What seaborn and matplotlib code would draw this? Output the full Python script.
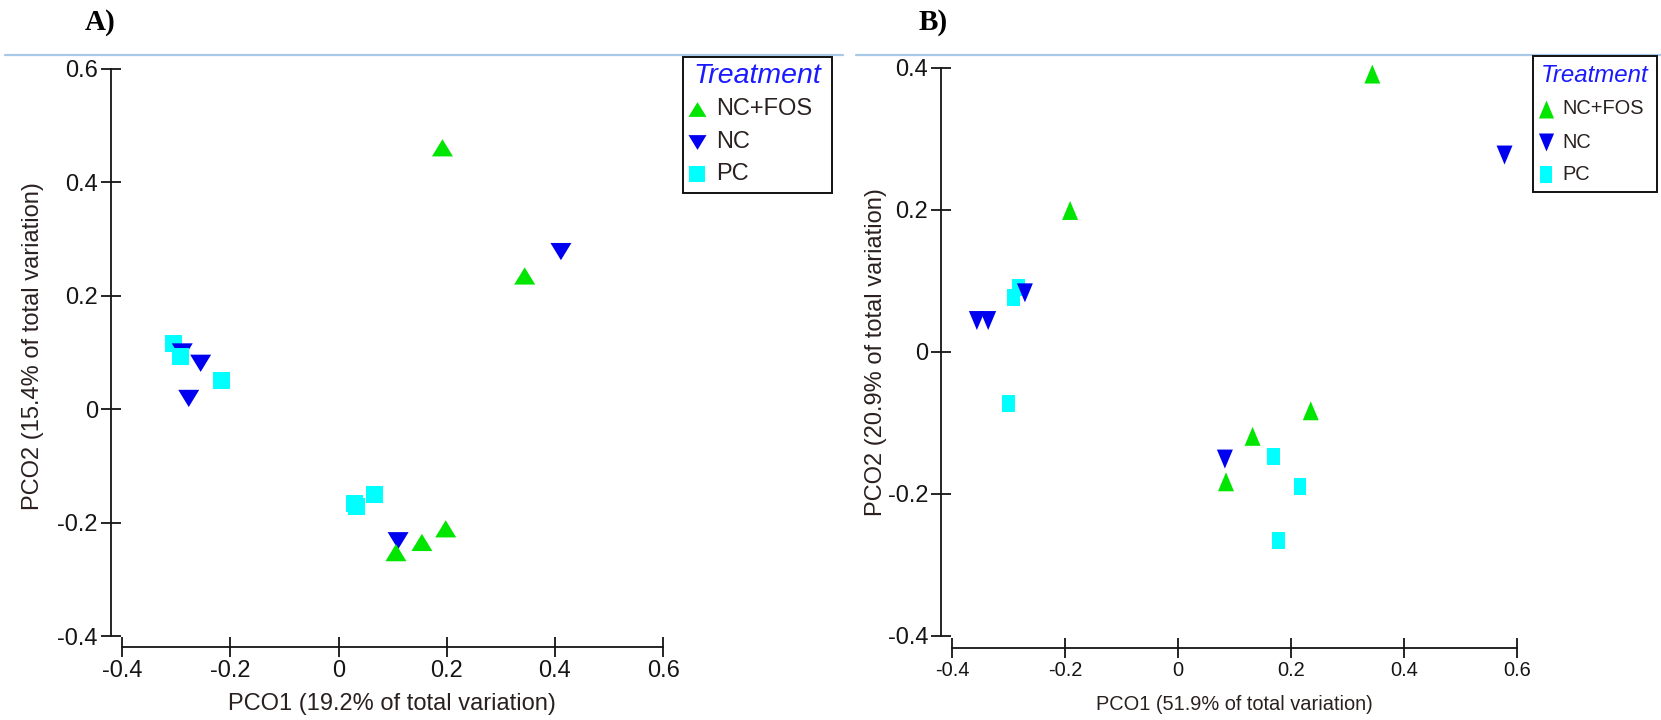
import numpy as np
import pandas as pd
import matplotlib
matplotlib.use("Agg")
import matplotlib.pyplot as plt
from matplotlib.path import Path
from matplotlib.patches import Rectangle
from matplotlib.lines import Line2D
from matplotlib import font_manager as fm
import seaborn as sns

# ---------------- data ----------------
treatments = ["NC+FOS", "NC", "PC"]
tick_values_x = [-0.4, -0.2, 0.0, 0.2, 0.4, 0.6]
tick_labels_x = ["-0.4", "-0.2", "0", "0.2", "0.4", "0.6"]
tick_values_y_a = [-0.4, -0.2, 0.0, 0.2, 0.4, 0.6]
tick_labels_y_a = ["-0.4", "-0.2", "0", "0.2", "0.4", "0.6"]
tick_values_y_b = [-0.4, -0.2, 0.0, 0.2, 0.4]
tick_labels_y_b = ["-0.4", "-0.2", "0", "0.2", "0.4"]

# Panel A samples (listed in drawing order)
a_treatment = ["PC", "NC", "PC", "NC", "PC", "NC", "PC", "PC", "PC", "NC",
               "NC+FOS", "NC+FOS", "NC+FOS", "NC+FOS", "NC+FOS", "NC"]
a_pco1 = [-0.306, -0.289, -0.293, -0.255, -0.216, -0.277, 0.030, 0.034, 0.067, 0.110,
          0.106, 0.154, 0.198, 0.192, 0.344, 0.411]
a_pco2 = [0.116, 0.101, 0.093, 0.081, 0.051, 0.019, -0.166, -0.172, -0.151, -0.232,
          -0.253, -0.235, -0.211, 0.461, 0.235, 0.278]

# Panel B samples (listed in drawing order)
b_treatment = ["NC", "NC", "PC", "PC", "NC", "PC", "NC+FOS", "NC+FOS", "NC", "NC",
               "NC+FOS", "NC+FOS", "NC+FOS", "PC", "PC", "PC"]
b_pco1 = [-0.356, -0.336, -0.282, -0.291, -0.271, -0.300, -0.191, 0.344, 0.578, 0.083,
          0.085, 0.132, 0.235, 0.169, 0.216, 0.178]
b_pco2 = [0.044, 0.044, 0.091, 0.077, 0.083, -0.073, 0.199, 0.391, 0.277, -0.151,
          -0.183, -0.119, -0.083, -0.148, -0.190, -0.266]

a_xlabel = "PCO1 (19.2% of total variation)"
a_ylabel = "PCO2 (15.4% of total variation)"
b_xlabel = "PCO1 (51.9% of total variation)"
b_ylabel = "PCO2 (20.9% of total variation)"

# ---------------- style ----------------
sns.set_style("white")
plt.rcParams["font.family"] = ["Liberation Sans", "DejaVu Sans"]
plt.rcParams["axes.unicode_minus"] = False


def font_available(name):
    try:
        fm.findfont(fm.FontProperties(family=name), fallback_to_default=False)
        return True
    except ValueError:
        return False


HAS_NARROW = font_available("Liberation Sans Narrow")
NARROW = ["Liberation Sans Narrow", "Liberation Sans"] if HAS_NARROW else ["Liberation Sans"]
NARROW_SCALE = 1.0 if HAS_NARROW else 0.85

palette = {"NC+FOS": "#00e600", "NC": "#0000f0", "PC": "#00ffff"}
TEXT = "#2a2020"
TICK = "#151515"


def poly(pts):
    return Path(list(pts) + [pts[0]], closed=True)


# marker outlines (normalised by their largest coordinate)
markers_a = {
    "NC+FOS": poly([(-1, -0.82), (1, -0.82), (0, 0.82)]),
    "NC": poly([(-1, 0.82), (1, 0.82), (0, -0.82)]),
    "PC": poly([(-1, -1), (1, -1), (1, 1), (-1, 1)]),
}
markers_b = {
    "NC+FOS": poly([(-0.84, -1), (0.84, -1), (0, 1)]),
    "NC": poly([(-0.84, 1), (0.84, 1), (0, -1)]),
    "PC": poly([(-0.76, -1), (0.76, -1), (0.76, 1), (-0.76, 1)]),
}
PT = 0.72  # points per pixel at dpi 100
sizes_a = {"NC+FOS": (21 * PT) ** 2, "NC": (21 * PT) ** 2, "PC": (17 * PT) ** 2}
sizes_b = {"NC+FOS": (19 * PT) ** 2, "NC": (19 * PT) ** 2, "PC": (17 * PT) ** 2}

W, H = 1661, 720
fig = plt.figure(figsize=(W / 100, H / 100), dpi=100, facecolor="white")


def fx(x):
    return x / W


def fy(y):
    return 1 - y / H


def add_axes_px(left, top, right, bottom):
    return fig.add_axes([fx(left), fy(bottom), (right - left) / W, (bottom - top) / H])


def draw_panel(ax, df, markers, sizes, xlim, ylim, yticks, ylabels_txt,
               xtick_font, xtick_size):
    sns.scatterplot(data=df, x="pco1", y="pco2", hue="treatment", style="treatment",
                    size="treatment", palette=palette, markers=markers, sizes=sizes,
                    hue_order=treatments, style_order=treatments, size_order=treatments,
                    linewidth=0, legend=False, ax=ax, zorder=3)
    ax.set_xlim(*xlim)
    ax.set_ylim(*ylim)
    ax.set_xticks(tick_values_x)
    ax.set_xticklabels(tick_labels_x, family=xtick_font, fontsize=xtick_size)
    ax.set_yticks(yticks)
    ax.set_yticklabels(ylabels_txt, fontsize=17)
    for side in ("top", "right"):
        ax.spines[side].set_visible(False)
    for side in ("left", "bottom"):
        ax.spines[side].set_color(TICK)
        ax.spines[side].set_linewidth(1.3)
    ax.spines["left"].set_bounds(yticks[0], yticks[-1])
    ax.spines["bottom"].set_bounds(tick_values_x[0], tick_values_x[-1])
    ax.tick_params(bottom=True, left=True, top=False, right=False,
                   direction="inout", length=15, width=1.3, color=TICK,
                   labelcolor=TICK, pad=2)
    ax.set_xlabel("")
    ax.set_ylabel("")
    ax.patch.set_alpha(0)
    return ax


# ---------------- panel A ----------------
df_a = pd.DataFrame({"treatment": a_treatment, "pco1": a_pco1, "pco2": a_pco2})
ax_a = add_axes_px(111, 58, 674, 647)
draw_panel(ax_a, df_a, markers_a, sizes_a, (-0.4207, 0.620), (-0.4194, 0.6194),
           tick_values_y_a, tick_labels_y_a, ["Liberation Sans"], 17)

# ---------------- panel B ----------------
df_b = pd.DataFrame({"treatment": b_treatment, "pco1": b_pco1, "pco2": b_pco2})
ax_b = add_axes_px(941.3, 58, 1530, 648.3)
draw_panel(ax_b, df_b, markers_b, sizes_b, (-0.4190, 0.6231), (-0.4174, 0.4136),
           tick_values_y_b, tick_labels_y_b, NARROW, 17 * NARROW_SCALE)

# axis titles
fig.text(fx(392), fy(704), a_xlabel, ha="center", va="center", fontsize=17, color=TEXT)
fig.text(fx(33), fy(346), a_ylabel, ha="center", va="center", rotation=90,
         fontsize=17, color=TEXT)
fig.text(fx(1234), fy(705), b_xlabel, ha="center", va="center", family=NARROW,
         fontsize=17 * NARROW_SCALE, color=TEXT)
fig.text(fx(876), fy(352), b_ylabel, ha="center", va="center", rotation=90,
         fontsize=17, color=TEXT)

# panel letters
fig.text(fx(85), fy(23), "A)", ha="left", va="center", family=["Liberation Serif"],
         fontweight="bold", fontsize=21, color="black")
fig.text(fx(919), fy(23), "B)", ha="left", va="center", family=["Liberation Serif"],
         fontweight="bold", fontsize=21, color="black")

# thin rules along the top of each panel
fig.add_artist(Line2D([fx(5), fx(843)], [fy(55), fy(55)], color="#a8c8e8", lw=1.6))
fig.add_artist(Line2D([fx(856), fx(1661)], [fy(55), fy(55)], color="#a8c8e8", lw=1.6))


# ---------------- legends ----------------
def draw_legend(box, title_x, marker_x, text_x, markers, msizes, font, fsize, title_size):
    l, t, r, b = box
    fig.add_artist(Rectangle((fx(l), fy(b)), (r - l) / W, (b - t) / H,
                             transform=fig.transFigure, facecolor="white",
                             edgecolor="#111111", lw=1.4, zorder=5))
    fig.text(fx(title_x), fy(76), "Treatment", ha="center", va="center",
             style="italic", family=font, fontsize=title_size, color="#1a1aff", zorder=6)
    for name, row_y in zip(treatments, (109, 142, 174)):
        fig.add_artist(Line2D([fx(marker_x)], [fy(row_y)], marker=markers[name],
                              markersize=msizes[name] * PT, color=palette[name],
                              markeredgewidth=0, linestyle="none", zorder=6))
        fig.text(fx(text_x), fy(row_y), name, ha="left", va="center", family=font,
                 fontsize=fsize, color=TEXT, zorder=6)


draw_legend((683, 57, 832, 193), 757, 697, 716, markers_a,
            {"NC+FOS": 18, "NC": 18, "PC": 16}, ["Liberation Sans"], 17, 20.5)
draw_legend((1533, 56, 1657, 192), 1595, 1546, 1562, markers_b,
            {"NC+FOS": 18, "NC": 18, "PC": 17}, NARROW, 17 * NARROW_SCALE, 17.3)

fig.savefig("out.png", dpi=100, facecolor="white")
